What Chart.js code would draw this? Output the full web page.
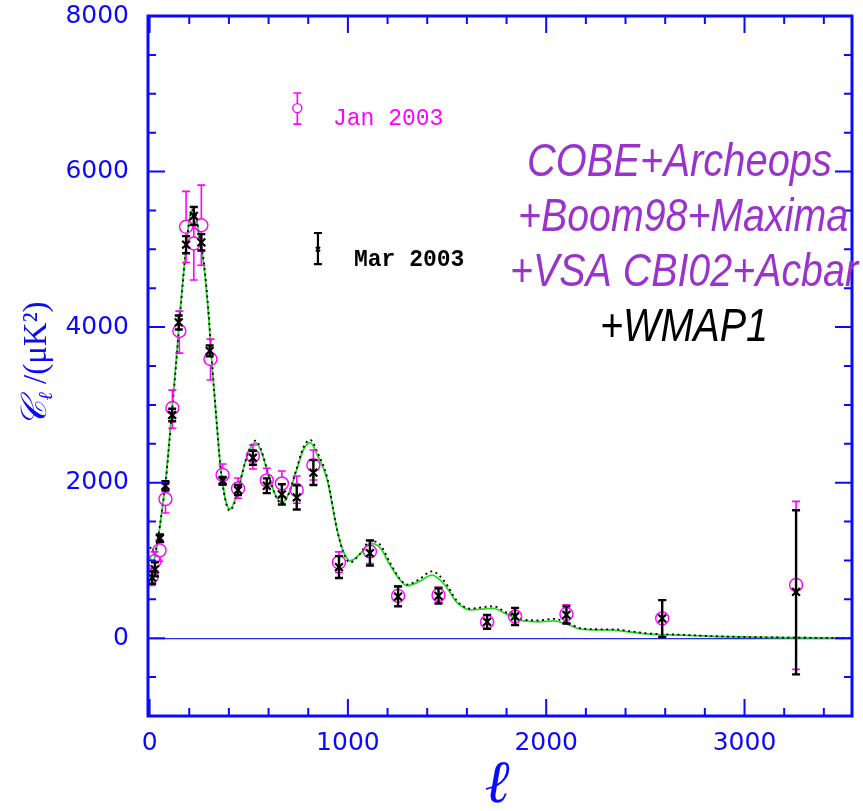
<!DOCTYPE html>
<html><head><meta charset="utf-8">
<script src="https://cdn.jsdelivr.net/npm/chart.js@4.4.1/dist/chart.umd.min.js"></script>
<style>html,body{margin:0;padding:0;background:#fff;}canvas{display:block;}</style>
</head><body>
<canvas id="c" width="863" height="811"></canvas>
<script>
// Band powers (μK²) with error ranges, January 2003 compilation
const janL  = [10, 25, 50, 80, 115, 150, 184, 223, 261, 307, 368, 446, 521, 591, 667, 742, 826, 955, 1111, 1253, 1457, 1702, 1843, 2102, 2585, 3260];
const janV  = [790, 990, 1130, 1790, 2960, 3950, 5290, 5075, 5310, 3590, 2100, 1925, 2345, 2030, 1990, 1905, 2225, 975, 1115, 545, 555, 210, 280, 310, 255, 685];
const janLo = [680, 870, 990, 1610, 2700, 3665, 4830, 4605, 4795, 3320, 1970, 1800, 2175, 1865, 1820, 1735, 2035, 845, 960, 415, 455, 120, 170, 190, 20, -400];
const janHi = [900, 1110, 1270, 1980, 3190, 4205, 5745, 5545, 5825, 3845, 2240, 2060, 2485, 2185, 2150, 2085, 2420, 1110, 1265, 675, 655, 300, 390, 430, 490, 1760];

// Band powers (μK²) with error ranges, March 2003 compilation (with WMAP1)
const marL  = [13, 27, 52, 80, 114, 147, 184, 223, 261, 303, 368, 446, 521, 591, 667, 742, 826, 955, 1111, 1253, 1457, 1702, 1843, 2102, 2585, 3260];
const marV  = [780, 885, 1285, 1960, 2870, 4060, 5060, 5430, 5090, 3695, 2025, 1905, 2320, 1960, 1850, 1810, 2130, 915, 1095, 535, 545, 210, 280, 300, 255, 595];
const marLo = [700, 795, 1235, 1900, 2790, 3970, 4950, 5315, 4985, 3625, 1975, 1840, 2230, 1865, 1720, 1655, 1970, 775, 935, 410, 445, 120, 170, 190, 15, -465];
const marHi = [860, 975, 1335, 2020, 2950, 4150, 5170, 5545, 5195, 3765, 2075, 1970, 2410, 2055, 1980, 1965, 2290, 1055, 1255, 665, 645, 300, 390, 410, 490, 1645];

// Key markers next to the compilation labels
const janKeyL = [745],  janKeyV = [6815], janKeyLo = [6610], janKeyHi = [7010];
const marKeyL = [849],  marKeyV = [5000], marKeyLo = [4810], marKeyHi = [5210];

// Model spectra sampled in multipole
const modelL   = [2, 10, 20, 30, 40, 51, 65, 80, 113, 135, 159, 185, 200, 216, 235, 255, 273, 298, 315, 340, 357, 382, 404, 441, 470, 500, 533, 560, 600, 635, 668, 700, 740, 775, 810, 850, 895, 945, 980, 1012, 1060, 1113, 1160, 1215, 1260, 1298, 1360, 1424, 1490, 1550, 1617, 1680, 1734, 1800, 1886, 1960, 2037, 2110, 2171, 2272, 2339, 2420, 2524, 2675, 2860, 3100, 3300, 3540];
const modelFit = [1050, 990, 1000, 1080, 1230, 1420, 1700, 2000, 2950, 3600, 4350, 5050, 5370, 5510, 5400, 5080, 4810, 4125, 3500, 2710, 2215, 1790, 1660, 1850, 2150, 2400, 2515, 2420, 2100, 1840, 1745, 1850, 2150, 2420, 2515, 2330, 2045, 1400, 1100, 995, 1080, 1220, 1170, 930, 760, 675, 730, 810, 680, 460, 365, 375, 385, 310, 222, 212, 222, 175, 118, 108, 105, 80, 52, 40, 22, 12, 6, 2];
const modelAlt = [1150, 1180, 1120, 1130, 1260, 1430, 1690, 1980, 2900, 3560, 4320, 5030, 5360, 5500, 5420, 5110, 4850, 4170, 3540, 2730, 2220, 1780, 1640, 1840, 2150, 2410, 2540, 2440, 2100, 1830, 1730, 1850, 2170, 2450, 2550, 2370, 2070, 1400, 1080, 975, 1080, 1250, 1210, 960, 770, 690, 760, 860, 720, 480, 380, 400, 410, 330, 240, 230, 250, 195, 130, 115, 115, 90, 60, 45, 25, 12, 6, 2];

// Axis ticks and labels
const xTickValues = [0, 200, 400, 600, 800, 1000, 1200, 1400, 1600, 1800, 2000, 2200, 2400, 2600, 2800, 3000, 3200, 3400];
const xTickLabels = [0, 1000, 2000, 3000];
const yTickValues = [-1000, -500, 0, 500, 1000, 1500, 2000, 2500, 3000, 3500, 4000, 4500, 5000, 5500, 6000, 6500, 7000, 7500, 8000];
const yTickLabels = [0, 2000, 4000, 6000, 8000];

const BLUE = '#0a0aff';
const MAGENTA = '#ff00ff';
const PURPLE = '#9933cc';

const pts = (ls, vs) => ls.map((l, i) => ({ x: l, y: vs[i] }));

// Vertical error bars with end caps, drawn through the chart's own scales
const errorBars = {
  id: 'errorBars',
  afterDatasetDraw(chart, args) {
    const ds = chart.data.datasets[args.index];
    if (!ds.errLo) return;
    const ys = chart.scales.y, ctx = chart.ctx;
    ctx.save();
    ctx.strokeStyle = ds.barColor;
    ctx.lineWidth = ds.barWidth;
    args.meta.data.forEach((pt, i) => {
      const x = pt.x, yc = pt.y;
      const yLo = ys.getPixelForValue(ds.errLo[i]);
      const yHi = ys.getPixelForValue(ds.errHi[i]);
      const c = ds.capHalf, gap = ds.gapInside || 0;
      ctx.beginPath();
      if (gap) {
        if (yLo > yc + gap) { ctx.moveTo(x, yLo); ctx.lineTo(x, yc + gap); }
        if (yHi < yc - gap) { ctx.moveTo(x, yHi); ctx.lineTo(x, yc - gap); }
      } else {
        ctx.moveTo(x, yLo); ctx.lineTo(x, yHi);
      }
      ctx.moveTo(x - c, yLo); ctx.lineTo(x + c, yLo);
      ctx.moveTo(x - c, yHi); ctx.lineTo(x + c, yHi);
      ctx.stroke();
    });
    ctx.restore();
  }
};

// Boxed frame with inward ticks on all four sides, plus the text annotations
const frameAndText = {
  id: 'frameAndText',
  afterDraw(chart) {
    const { ctx, chartArea: a } = chart;
    const xs = chart.scales.x, ys = chart.scales.y;
    ctx.save();
    ctx.strokeStyle = BLUE;
    ctx.lineWidth = 2;
    ctx.beginPath();
    xTickValues.forEach(v => {
      const px = xs.getPixelForValue(v);
      const len = v % 1000 === 0 ? 17 : 8;
      ctx.moveTo(px, a.bottom); ctx.lineTo(px, a.bottom - len);
      ctx.moveTo(px, a.top); ctx.lineTo(px, a.top + len);
    });
    yTickValues.forEach(v => {
      const py = ys.getPixelForValue(v);
      const len = v % 2000 === 0 ? 17 : 8;
      ctx.moveTo(a.left, py); ctx.lineTo(a.left + len, py);
      ctx.moveTo(a.right, py); ctx.lineTo(a.right - len, py);
    });
    ctx.stroke();
    ctx.lineWidth = 3;
    ctx.strokeRect(a.left, a.top, a.right - a.left, a.bottom - a.top);

    // compilation labels
    ctx.textBaseline = 'alphabetic';
    ctx.textAlign = 'left';
    ctx.fillStyle = MAGENTA;
    ctx.font = '23px "Liberation Mono"';
    ctx.fillText('Jan 2003', 333, 125);
    ctx.fillStyle = '#000';
    ctx.font = 'bold 23px "Liberation Mono"';
    ctx.fillText('Mar 2003', 354, 266);

    // dataset list, condensed italic
    const lines = [
      { t: 'COBE+Archeops',     x0: 527, x1: 832, base: 176, col: PURPLE },
      { t: '+Boom98+Maxima',    x0: 518, x1: 848, base: 231, col: PURPLE },
      { t: '+VSA CBI02+Acbar',  x0: 510, x1: 858, base: 286, col: PURPLE },
      { t: '+WMAP1',            x0: 600, x1: 768, base: 341, col: '#000' }
    ];
    ctx.font = 'italic 46px "Liberation Sans"';
    lines.forEach(l => {
      const w = ctx.measureText(l.t).width;
      const s = (l.x1 - l.x0) / w;
      ctx.save();
      ctx.translate(l.x0, l.base);
      ctx.scale(s, 1);
      ctx.fillStyle = l.col;
      ctx.fillText(l.t, 0, 0);
      ctx.restore();
    });

    // axis titles
    ctx.fillStyle = BLUE;
    ctx.textAlign = 'center';
    ctx.font = 'italic 60px "Liberation Serif"';
    ctx.fillText('ℓ', 497, 802);

    ctx.save();
    ctx.translate(46, 364);
    ctx.rotate(-Math.PI / 2);
    ctx.textAlign = 'left';
    const f1 = 'italic 36px "DejaVu Serif", "Liberation Serif"';
    const f2 = 'italic 20px "Liberation Serif"';
    const f3 = '33px "Liberation Serif"';
    ctx.font = f1; const wC = ctx.measureText('𝒞').width;
    ctx.font = f2; const wS = ctx.measureText('ℓ').width;
    ctx.font = f3; const wR = ctx.measureText(' /(μK²)').width;
    let x = -(wC + wS + wR) / 2;
    ctx.font = f1; ctx.fillText('𝒞', x, 0); x += wC;
    ctx.font = f2; ctx.fillText('ℓ', x, 6); x += wS;
    ctx.font = f3; ctx.fillText(' /(μK²)', x, 0);
    ctx.restore();

    ctx.restore();
  }
};

new Chart(document.getElementById('c'), {
  type: 'scatter',
  data: {
    datasets: [
      { type: 'line', data: pts(modelL, modelFit), borderColor: '#22dd22', borderWidth: 1.8,
        pointRadius: 0, fill: false, cubicInterpolationMode: 'monotone', order: 6 },
      { type: 'line', data: pts(modelL, modelAlt), borderColor: '#000', borderWidth: 1.8,
        borderDash: [2, 3.5], pointRadius: 0, fill: false, cubicInterpolationMode: 'monotone', order: 5 },
      { data: pts(janL, janV), errLo: janLo, errHi: janHi, barColor: MAGENTA, barWidth: 1.6, capHalf: 4, gapInside: 6.5,
        pointStyle: 'circle', pointRadius: 6.5, borderColor: MAGENTA, borderWidth: 1.4,
        backgroundColor: 'rgba(0,0,0,0)', order: 4 },
      { data: pts(janKeyL, janKeyV), errLo: janKeyLo, errHi: janKeyHi, barColor: MAGENTA, barWidth: 1.6, capHalf: 4, gapInside: 4.5,
        pointStyle: 'circle', pointRadius: 4.5, borderColor: MAGENTA, borderWidth: 1.4,
        backgroundColor: 'rgba(0,0,0,0)', order: 4 },
      { data: pts(marL, marV), errLo: marLo, errHi: marHi, barColor: '#000', barWidth: 2.4, capHalf: 4,
        pointStyle: 'crossRot', pointRadius: 5.5, borderColor: '#000', borderWidth: 2.2, order: 3 },
      { data: pts(marKeyL, marKeyV), errLo: marKeyLo, errHi: marKeyHi, barColor: '#000', barWidth: 2.2, capHalf: 4,
        pointStyle: 'crossRot', pointRadius: 3, borderColor: '#000', borderWidth: 1.8, order: 3 }
    ]
  },
  options: {
    responsive: false,
    animation: false,
    devicePixelRatio: 1,
    layout: { padding: { left: 0, right: 11, top: 16, bottom: 0 } },
    plugins: { legend: { display: false }, tooltip: { enabled: false } },
    scales: {
      x: {
        type: 'linear', min: -8, max: 3542,
        afterBuildTicks: s => { s.ticks = xTickValues.map(v => ({ value: v })); },
        afterFit: s => { s.height = 95; s.paddingLeft = 0; s.paddingRight = 0; },
        grid: { display: false },
        border: { display: false },
        ticks: {
          autoSkip: false, maxRotation: 0, minRotation: 0, padding: 4, color: BLUE,
          font: { family: 'DejaVu Sans', size: 25 },
          callback: v => xTickLabels.includes(v) ? String(v) : ''
        }
      },
      y: {
        type: 'linear', min: -1000, max: 8000,
        afterBuildTicks: s => { s.ticks = yTickValues.map(v => ({ value: v })); },
        afterFit: s => { s.width = 148; s.paddingTop = 0; s.paddingBottom = 0; },
        grid: {
          drawTicks: false,
          color: c => (c.tick && c.tick.value === 0) ? '#2a2ae0' : 'rgba(0,0,0,0)',
          lineWidth: c => (c.tick && c.tick.value === 0) ? 1.3 : 0
        },
        border: { display: false },
        ticks: {
          autoSkip: false, padding: 19, color: BLUE,
          font: { family: 'DejaVu Sans', size: 25 },
          callback: v => yTickLabels.includes(v) ? String(v) : ''
        }
      }
    }
  },
  plugins: [errorBars, frameAndText]
});
</script>
</body></html>
